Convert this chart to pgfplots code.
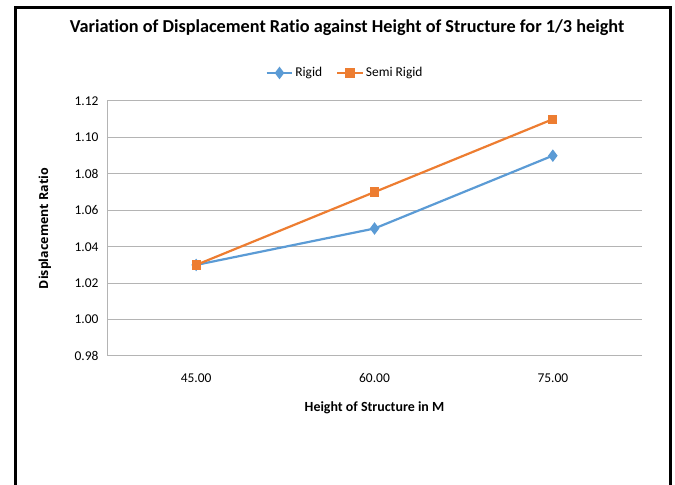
\documentclass[border=0pt]{standalone}
\usepackage{pgfplots}
\pgfplotsset{compat=1.18}
\usepackage{fontspec}
\setmainfont{Carlito}[Ligatures=NoCommon]
\newfontfamily\labfont{Open Sans}
\definecolor{rigid}{HTML}{5B9BD5}
\definecolor{semi}{HTML}{ED7D31}
\definecolor{gridc}{HTML}{B4B4B4}
\begin{document}
\begin{tikzpicture}
\useasboundingbox (0bp,0bp) rectangle (675bp,485bp);
\draw[line width=3bp] (15.5bp,0bp) -- (15.5bp,477.5bp) -- (670.5bp,477.5bp) -- (670.5bp,0bp);
\node[font=\fontsize{18.3}{22}\selectfont\bfseries] at (347bp,457bp) {Variation of Displacement Ratio against Height of Structure for 1/3 height};
\begin{axis}[
    at={(107bp,129bp)}, anchor=south west,
    scale only axis, width=535bp, height=255bp,
    xmin=-0.5, xmax=2.5, ymin=0.98, ymax=1.12,
    xtick={0,1,2}, xticklabels={45.00,60.00,75.00},
    ytick={0.98,1.00,...,1.12},
    yticklabel style={/pgf/number format/.cd,fixed,fixed zerofill,precision=2},
    /pgf/number format/assume math mode=true,
    ticklabel style={font=\fontsize{13.5}{16}\selectfont},
    major tick length=0pt,
    ymajorgrids=true, grid style={gridc, line width=1bp},
    axis x line*=bottom, axis y line*=left,
    axis line style={gridc, line width=1bp, -},
    xticklabel shift=14bp, yticklabel shift=5bp,
    xlabel={\bfseries Height of Structure in M},
    xlabel style={font=\fontsize{14}{16}\selectfont, at={(0.5,0)}, anchor=north, yshift=-42bp},
    ylabel={\labfont\bfseries Displacement Ratio},
    ylabel style={font=\fontsize{12.5}{15}\selectfont, at={(-0.116,0.5)}, anchor=center},
    legend columns=-1,
    legend style={draw=none, at={(0.445,1.11)}, anchor=center,
        font=\fontsize{13.5}{16}\selectfont,
        /tikz/every even column/.append style={column sep=12bp}},
    legend image code/.code={
        \draw[mark repeat=2,mark phase=2] plot coordinates {(0cm,0cm) (0.45cm,0cm) (0.9cm,0cm)};},
    clip=false,
]
\addplot[rigid, line width=2.2bp, mark=diamond*, mark size=4.5bp] coordinates {
    (0,1.03) (1,1.05) (2,1.09)
};
\addplot[semi, line width=2.2bp, mark=square*, mark size=3.5bp] coordinates {
    (0,1.03) (1,1.07) (2,1.11)
};
\legend{Rigid,Semi Rigid}
\end{axis}
\end{tikzpicture}
\end{document}
